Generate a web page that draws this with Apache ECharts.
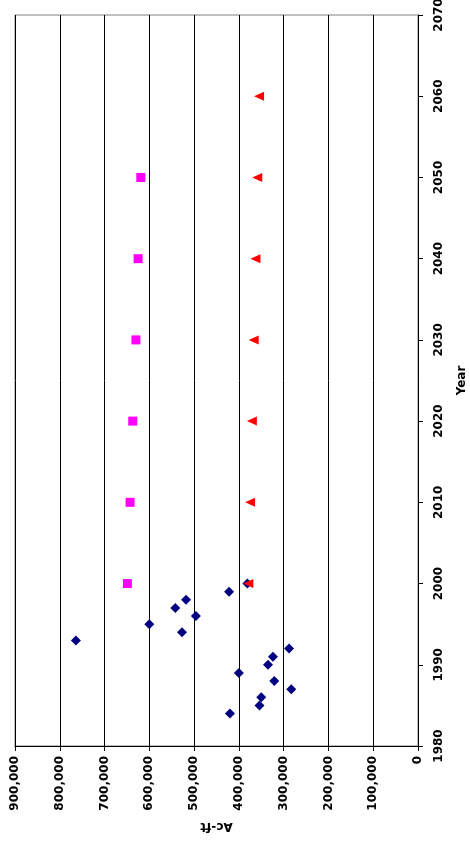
<!DOCTYPE html>
<html>
<head>
<meta charset="utf-8">
<script src="https://cdn.jsdelivr.net/npm/echarts@6/dist/echarts.min.js"></script>
<style>
  html, body { margin: 0; padding: 0; background: #fff; }
  #chart { width: 470px; height: 848px; }
</style>
</head>
<body>
<div id="chart"></div>
<script>
// Historical annual use (Ac-ft)
const histYears = [1984, 1985, 1986, 1987, 1988, 1989, 1990, 1991, 1992, 1993, 1994, 1995, 1996, 1997, 1998, 1999, 2000];
const histValues = [420000, 354000, 350000, 283000, 321000, 400000, 335000, 324000, 288000, 764000, 527000, 600000, 496000, 542000, 518000, 422000, 381000];

// Projection A (squares)
const projAYears = [2000, 2010, 2020, 2030, 2040, 2050];
const projAValues = [649000, 643000, 637000, 630000, 625000, 619000];

// Projection B (triangles)
const projBYears = [2000, 2010, 2020, 2030, 2040, 2050, 2060];
const projBValues = [379000, 375000, 371000, 367000, 363000, 359000, 355000];

// Axis ranges
const valueMin = 0, valueMax = 900000, valueStep = 100000;
const yearMin = 1980, yearMax = 2070, yearStep = 10;

const pairs = (xs, ys) => xs.map((x, i) => [ys[i], x]);

const font = '"DejaVu Sans", Verdana, sans-serif';
const chart = echarts.init(document.getElementById('chart'), null, { renderer: 'canvas' });

chart.setOption({
  animation: false,
  backgroundColor: '#fff',
  grid: {
    left: 15, right: 52, top: 15, bottom: 102,
    containLabel: false,
    outerBoundsMode: 'none',
    show: true, borderColor: '#808080', borderWidth: 1
  },
  xAxis: {
    type: 'value',
    inverse: true,
    position: 'bottom',
    min: valueMin, max: valueMax, interval: valueStep,
    name: 'Ac-ft',
    nameLocation: 'middle',
    nameGap: 74,
    nameRotate: 180,
    nameTextStyle: { fontFamily: font, fontWeight: 'bold', fontSize: 12, color: '#000' },
    axisLine: { show: true, lineStyle: { color: '#000', width: 1 } },
    axisTick: { show: true, length: 5, lineStyle: { color: '#000' } },
    axisLabel: {
      rotate: 90, margin: 10,
      fontFamily: font, fontWeight: 'bold', fontSize: 12, color: '#000'
    },
    splitLine: { show: true, lineStyle: { color: '#000', width: 1 } }
  },
  yAxis: {
    type: 'value',
    position: 'right',
    min: yearMin, max: yearMax, interval: yearStep,
    name: 'Year',
    nameLocation: 'middle',
    nameGap: 38,
    nameRotate: 90,
    nameTextStyle: { fontFamily: font, fontWeight: 'bold', fontSize: 12, color: '#000' },
    axisLine: { show: true, lineStyle: { color: '#000', width: 1 } },
    axisTick: { show: true, length: 5, lineStyle: { color: '#000' } },
    axisLabel: {
      rotate: 90, margin: 15,
      formatter: v => String(v),
      fontFamily: font, fontWeight: 'bold', fontSize: 12, color: '#000'
    },
    splitLine: { show: false }
  },
  series: [
    {
      name: 'Historical',
      type: 'scatter',
      symbol: 'diamond',
      symbolSize: [10, 10],
      itemStyle: { color: '#000080', opacity: 1 },
      data: pairs(histYears, histValues)
    },
    {
      name: 'Projection A',
      type: 'scatter',
      symbol: 'rect',
      symbolSize: 9,
      itemStyle: { color: '#FF00FF', opacity: 1 },
      data: pairs(projAYears, projAValues)
    },
    {
      name: 'Projection B',
      type: 'scatter',
      symbol: 'triangle',
      symbolRotate: 90,
      symbolSize: [9, 10],
      itemStyle: { color: '#FF0000', opacity: 1 },
      data: pairs(projBYears, projBValues)
    }
  ]
});
</script>
</body>
</html>
